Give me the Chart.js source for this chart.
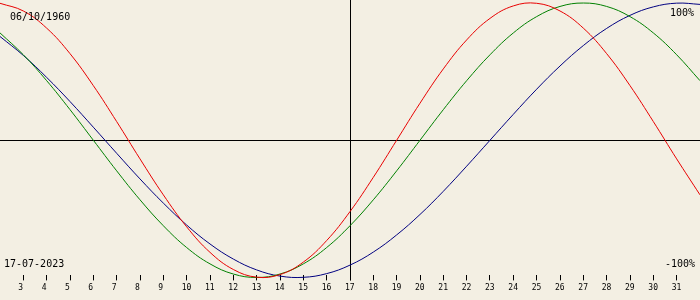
<!DOCTYPE html>
<html>
<head>
<meta charset="utf-8">
<title>Biorhythm</title>
<script src="https://cdn.jsdelivr.net/npm/chart.js"></script>
<style>
    html, body { margin: 0; padding: 0; background: #f3efe3; }
    #wrap { width: 700px; height: 300px; position: relative; }
</style>
</head>
<body>
<div id="wrap"><canvas id="bioChart" width="700" height="300"></canvas></div>
<script>
// days of July 2023 shown on the chart (2 and 32 are the edges)
const days = [2, 3, 4, 5, 6, 7, 8, 9, 10, 11, 12, 13, 14, 15, 16, 17,
    18, 19, 20, 21, 22, 23, 24, 25, 26, 27, 28, 29, 30, 31, 32];
const tickDays = [3, 4, 5, 6, 7, 8, 9, 10, 11, 12, 13, 14, 15, 16, 17,
    18, 19, 20, 21, 22, 23, 24, 25, 26, 27, 28, 29, 30, 31];

// values in %, one per day
const physical = [99.8, 94.2, 81.7, 63.1, 39.8, 13.6, -13.6, -39.8, -63.1, -81.7, -94.2,
    -99.8, -97.9, -88.8, -73.1, -52.0, -27.0, 0, 27.0, 52.0, 73.1, 88.8, 97.9, 99.8,
    94.2, 81.7, 63.1, 39.8, 13.6, -13.6, -39.8];
const emotional = [78.2, 62.3, 43.4, 22.3, 0, -22.3, -43.4, -62.3, -78.2, -90.1, -97.5,
    -100, -97.5, -90.1, -78.2, -62.3, -43.4, -22.3, 0, 22.3, 43.4, 62.3, 78.2, 90.1,
    97.5, 100, 97.5, 90.1, 78.2, 62.3, 43.4];
const intellectual = [75.6, 61.8, 45.8, 28.2, 9.5, -9.5, -28.2, -45.8, -61.8, -75.6, -86.6,
    -94.5, -99.0, -99.9, -97.2, -91.0, -81.5, -69.0, -54.1, -37.2, -18.9, 0, 18.9, 37.2,
    54.1, 69.0, 81.5, 91.0, 97.2, 99.9, 99.0];

const birthDate = '06/10/1960';
const todayLabel = '17-07-2023';
const today = 17;

const inkFont = '10px "DejaVu Sans Mono", monospace';

function points(values) {
    return days.map((d, i) => ({ x: d, y: values[i] }));
}

// cross lines at 0% and at today + the corner captions
const frame = {
    id: 'frame',
    beforeDatasetsDraw(chart) {
        const { ctx, chartArea, scales } = chart;
        const y0 = Math.round(scales.y.getPixelForValue(0)) + 0.5;
        const xt = Math.round(scales.x.getPixelForValue(today)) + 0.5;
        ctx.save();
        ctx.strokeStyle = '#000';
        ctx.lineWidth = 1;
        ctx.beginPath();
        ctx.moveTo(chartArea.left, y0);
        ctx.lineTo(chartArea.right, y0);
        ctx.moveTo(xt, 0);
        ctx.lineTo(xt, chartArea.bottom + 5);
        ctx.stroke();
        ctx.restore();
    },
    afterDraw(chart) {
        const { ctx } = chart;
        ctx.save();
        ctx.fillStyle = '#000';
        ctx.font = inkFont;
        ctx.textBaseline = 'alphabetic';
        ctx.textAlign = 'left';
        ctx.fillText(birthDate, 10, 20);
        ctx.fillText(todayLabel, 4, 267);
        ctx.textAlign = 'right';
        ctx.fillText('100%', 694, 16);
        ctx.fillText('-100%', 695, 267);
        ctx.restore();
    }
};

const chart = new Chart(document.getElementById('bioChart').getContext('2d'), {
    type: 'line',
    data: {
        datasets: [
            { label: 'Physical', data: points(physical), borderColor: '#e80000' },
            { label: 'Emotional', data: points(emotional), borderColor: '#008000' },
            { label: 'Intellectual', data: points(intellectual), borderColor: '#000080' }
        ].map(ds => ({
            ...ds,
            borderWidth: 1,
            pointRadius: 0,
            tension: 0.4,
            fill: false,
            clip: false
        }))
    },
    options: {
        responsive: false,
        animation: false,
        layout: { padding: { left: 0, right: 0, top: 0, bottom: 4 } },
        plugins: {
            legend: { display: false },
            tooltip: { enabled: false }
        },
        scales: {
            x: {
                type: 'linear',
                min: 2,
                max: 32,
                afterBuildTicks(axis) {
                    axis.ticks = tickDays.map(v => ({ value: v }));
                },
                border: { display: false },
                grid: {
                    drawOnChartArea: false,
                    drawTicks: true,
                    tickLength: 5,
                    tickColor: '#000'
                },
                ticks: {
                    autoSkip: false,
                    maxRotation: 0,
                    align: 'start',
                    labelOffset: -5,
                    padding: 3,
                    color: '#000',
                    font: { family: '"DejaVu Sans Mono", monospace', size: 8 }
                }
            },
            y: {
                display: false,
                min: -98.5,
                max: 102.2
            }
        }
    },
    plugins: [frame]
});
</script>
</body>
</html>
